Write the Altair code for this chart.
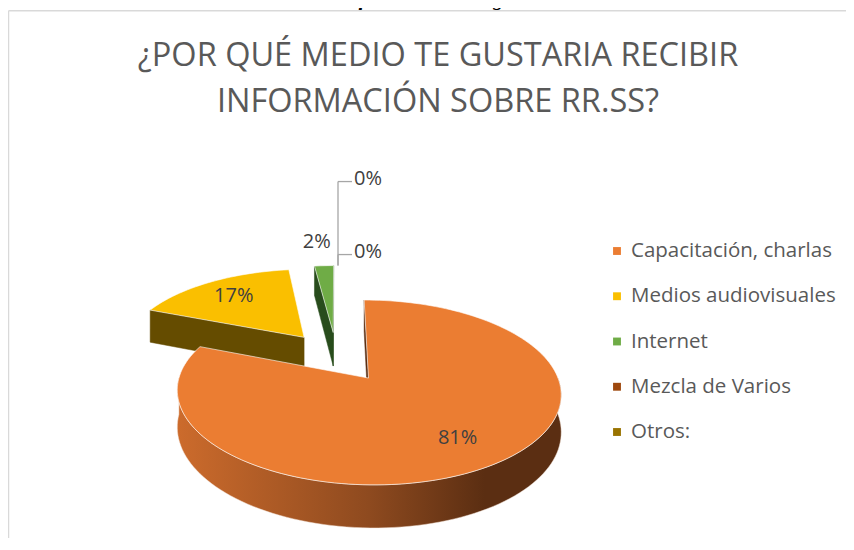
import altair as alt
import numpy as np
import pandas as pd

# ---------------- data ----------------
categories = ["Capacitación, charlas", "Medios audiovisuales", "Internet",
              "Mezcla de Varios", "Otros:"]
values = [81, 17, 2, 0, 0]
labels = ["81%", "17%", "2%", "0%", "0%"]
title_lines = ["¿POR QUÉ MEDIO TE GUSTARIA RECIBIR", "INFORMACIÓN SOBRE RR.SS?"]
caption_bold = "Gráfico N° 33:"
caption_rest = "Pregunta N° 30."

# ---------------- style ----------------
top_colors = ["#EB7D32", "#FABF00", "#6FAC46", "#9E480E", "#997300"]
wall_dark = ["#5b2e12", "#654c00", "#284c1c", "#4a2407", "#4d3a00"]
wall_light = ["#cc6b2c", "#8a6a00", "#3d6e2a", "#7a3a0b", "#7a5c00"]
FONT = "Open Sans"
TEXT = "#595959"
LABEL = "#404040"

# pseudo-3D projection (page pixel space)
CX, CY, AX, BY, K, EXPL, THICK = 336.5, 356.5, 182.5, 83.6, 0.15, 0.30, 35.0

# page area covered by the chart (8px page margin, no scrollbars)
X0, X1, Y0, Y1 = 8, 846, 8, 538


def proj(u, v, h):
    w = 1.0 + K * v
    return CX + AX * u / w, CY - BY * v / w + THICK * h / w


xs = alt.Scale(domain=[X0, X1], nice=False, zero=False)
ys = alt.Scale(domain=[Y0, Y1], nice=False, zero=False, reverse=True)


def enc_xy(ch):
    return ch.encode(x=alt.X("x:Q", scale=xs, axis=None),
                     y=alt.Y("y:Q", scale=ys, axis=None))


def poly(points, **mk):
    df = pd.DataFrame(points, columns=["x", "y"])
    df["o"] = np.arange(len(df))
    return enc_xy(alt.Chart(df).mark_line(filled=True, interpolate="linear", **mk)).encode(
        order=alt.Order("o:Q"))


total = float(sum(values))
fr = np.array(values, dtype=float) / total
ends = np.cumsum(fr) * 2 * np.pi
starts = ends - fr * 2 * np.pi

slices = []
for i, val in enumerate(values):
    a0, a1 = starts[i], ends[i]
    bis = (a0 + a1) / 2
    ou, ov = EXPL * np.sin(bis), EXPL * np.cos(bis)
    slices.append((i, a0, a1, bis, ou, ov))

layers = []
# draw back-to-front (larger v offset = further away)
order = sorted([s for s in slices if values[s[0]] > 0], key=lambda s: -s[5])
for (i, a0, a1, bis, ou, ov) in order:
    apex_t = proj(ou, ov, 0)
    apex_b = proj(ou, ov, 1)
    # radial walls
    for ang, sign in ((a0, -1), (a1, 1)):
        rt = proj(ou + np.sin(ang), ov + np.cos(ang), 0)
        rb = proj(ou + np.sin(ang), ov + np.cos(ang), 1)
        quad = [apex_t, rt, rb, apex_b]
        area = sum(quad[j][0] * quad[(j + 1) % 4][1] - quad[(j + 1) % 4][0] * quad[j][1]
                   for j in range(4))
        if area * sign > 0:
            layers.append(poly(quad + [apex_t], fill=wall_dark[i], stroke=wall_dark[i],
                               strokeWidth=0.5))
    # outer (front) wall
    lo, hi = max(a0, np.pi / 2), min(a1, 3 * np.pi / 2)
    if hi > lo:
        t = np.linspace(lo, hi, 90)
        topp = [proj(ou + np.sin(a), ov + np.cos(a), 0) for a in t]
        botp = [proj(ou + np.sin(a), ov + np.cos(a), 1) for a in t[::-1]]
        grad = alt.LinearGradient(
            gradient="linear", x1=0, x2=1, y1=0, y2=0,
            stops=[alt.GradientStop(color=wall_light[i], offset=0),
                   alt.GradientStop(color="#8e4a1f" if i == 0 else wall_light[i], offset=0.5),
                   alt.GradientStop(color=wall_dark[i], offset=0.8),
                   alt.GradientStop(color=wall_dark[i], offset=1)])
        layers.append(poly(topp + botp, fill=grad, stroke="#f3e2d4", strokeWidth=0.8,
                           strokeOpacity=0.6))
    # top face
    t = np.linspace(a0, a1, max(3, int(200 * fr[i])))
    pts = [apex_t] + [proj(ou + np.sin(a), ov + np.cos(a), 0) for a in t] + [apex_t]
    layers.append(poly(pts, fill=top_colors[i], stroke="#ffffff", strokeWidth=1,
                       strokeOpacity=0.6))

# ---------------- data labels ----------------
lab_rows = []
rule_rows = []
zero_count = 0
for (i, a0, a1, bis, ou, ov) in slices:
    if values[i] >= 10:
        r = 0.73
        x, y = proj(ou + r * np.sin(bis), ov + r * np.cos(bis), 0)
        lab_rows.append({"x": x, "y": y, "t": labels[i], "a": "center"})
    elif values[i] > 0:
        r = 1.42
        x, y = proj(ou + r * np.sin(bis), ov + r * np.cos(bis), 0)
        lab_rows.append({"x": x - 4, "y": y, "t": labels[i], "a": "center"})
    else:
        ax_, ay_ = proj(ou + np.sin(a1), ov + np.cos(a1), 0)
        ax_ += 1.5
        rise = [84, 11][min(zero_count, 1)]
        ty = ay_ - rise
        rule_rows.append({"x": ax_, "y": ay_, "x2": ax_, "y2": ty})
        rule_rows.append({"x": ax_, "y": ty, "x2": ax_ + 14, "y2": ty})
        lab_rows.append({"x": ax_ + 16, "y": ty - 3, "t": labels[i], "a": "left"})
        zero_count += 1

lab_df = pd.DataFrame(lab_rows)
rule_df = pd.DataFrame(rule_rows)

rules = alt.Chart(rule_df).mark_rule(color="#a6a6a6", strokeWidth=1.3).encode(
    x=alt.X("x:Q", scale=xs, axis=None), y=alt.Y("y:Q", scale=ys, axis=None),
    x2="x2:Q", y2="y2:Q")

lab_center = enc_xy(alt.Chart(lab_df[lab_df.a == "center"]).mark_text(
    font=FONT, fontSize=20, color=LABEL, align="center", baseline="middle")).encode(text="t:N")
lab_left = enc_xy(alt.Chart(lab_df[lab_df.a == "left"]).mark_text(
    font=FONT, fontSize=20, color=LABEL, align="left", baseline="middle")).encode(text="t:N")

# ---------------- title ----------------
title_df = pd.DataFrame({"x": [438, 438], "y": [66, 112], "t": title_lines})
title = enc_xy(alt.Chart(title_df).mark_text(
    font=FONT, fontSize=32.5, fontWeight="normal", color=TEXT, align="center",
    baseline="alphabetic")).encode(text="t:N")

cap_df = pd.DataFrame({"x": [458, 462], "y": [5, 5], "t": [caption_bold, caption_rest]})
cap1 = enc_xy(alt.Chart(cap_df.iloc[[0]]).mark_text(
    font="Liberation Serif", fontSize=22, fontStyle="italic", fontWeight="bold",
    color="#000000", align="right", baseline="alphabetic")).encode(text="t:N")
cap2 = enc_xy(alt.Chart(cap_df.iloc[[1]]).mark_text(
    font="Liberation Serif", fontSize=22, fontStyle="italic",
    color="#000000", align="left", baseline="alphabetic")).encode(text="t:N")

# ---------------- frame ----------------
frame_df = pd.DataFrame({"x": [8.5, 8.5], "y": [10.7, 10.7], "x2": [8.5, X1], "y2": [Y1, 10.7]})
frame = alt.Chart(frame_df).mark_rule(color="#d9d9d9", strokeWidth=1.5).encode(
    x=alt.X("x:Q", scale=xs, axis=None), y=alt.Y("y:Q", scale=ys, axis=None),
    x2="x2:Q", y2="y2:Q")

# ---------------- legend ----------------
leg_df = pd.DataFrame({"cat": categories, "i": np.arange(len(categories))})
leg_df["y"] = 251 + leg_df["i"] * 45.25
leg_df["x"] = 617.0
leg_df["xt"] = 631.0
leg_sq = enc_xy(alt.Chart(leg_df).mark_square(size=62, opacity=1)).encode(
    color=alt.Color("cat:N", scale=alt.Scale(domain=categories, range=top_colors), legend=None))
leg_tx = alt.Chart(leg_df).mark_text(font=FONT, fontSize=20.5, color=TEXT, align="left",
                                     baseline="middle").encode(
    x=alt.X("xt:Q", scale=xs, axis=None), y=alt.Y("y:Q", scale=ys, axis=None), text="cat:N")

chart = alt.layer(frame, cap1, cap2, title, *layers, rules, lab_center, lab_left,
                  leg_sq, leg_tx).properties(
    width=X1 - X0, height=Y1 - Y0, padding=0, autosize="none"
).configure_view(strokeWidth=0)

chart.save("out.html", embed_options={"renderer": "svg", "actions": False})
